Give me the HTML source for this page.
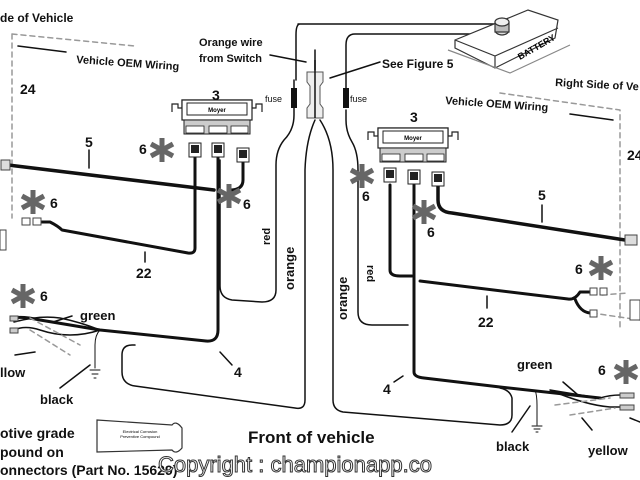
<!DOCTYPE html>
<html><head><meta charset="utf-8"><style>
html,body{margin:0;padding:0;background:#fff;}
svg{display:block;font-family:"Liberation Sans",Arial,sans-serif;font-weight:bold;}
</style></head><body>
<svg width="640" height="480" viewBox="0 0 640 480" xmlns="http://www.w3.org/2000/svg">
<defs>
<g id="ast"><g stroke="#666" stroke-width="5" stroke-linecap="butt">
<line x1="0" y1="-12" x2="0" y2="12"/><line x1="-11" y1="-6" x2="11" y2="6"/><line x1="-11" y1="6" x2="11" y2="-6"/></g></g>
<g id="moyer">
<path d="M0,12 v-8 h6 v4 h4 v-8 h70 v8 h4 v-4 h6 v8" fill="none" stroke="#222" stroke-width="1.2"/>
<rect x="10" y="0" width="70" height="20" fill="#fff" stroke="#222" stroke-width="1.2"/>
<rect x="15" y="3" width="60" height="12" fill="#fff" stroke="#222" stroke-width="1"/>
<text x="45" y="12" font-size="6" text-anchor="middle">Moyer</text>
<rect x="12" y="20" width="66" height="14" fill="#ccc" stroke="#222"/>
<rect x="14" y="26" width="18" height="7" fill="#fff" stroke="#222" stroke-width=".8"/>
<rect x="37" y="26" width="18" height="7" fill="#fff" stroke="#222" stroke-width=".8"/>
<rect x="59" y="26" width="17" height="7" fill="#fff" stroke="#222" stroke-width=".8"/>
</g>
<g id="plug"><rect x="-6" y="0" width="12" height="14" fill="#fff" stroke="#222"/><rect x="-4" y="2" width="8" height="8" fill="#222"/></g>
</defs>
<g fill="none" stroke="#111" stroke-linecap="round" stroke-linejoin="round">
<!-- dashed boxes -->
<path d="M12,34 L135,46 M12,34 V218" stroke="#999" stroke-width="1.5" stroke-dasharray="5,4"/>
<path d="M500,93 L620,110 V330" stroke="#999" stroke-width="1.5" stroke-dasharray="5,4"/>
<path d="M18,46 L66,52 M570,114 L613,120" stroke-width="1.5"/>
<!-- battery wires -->
<path d="M300,24 Q296,24 296,35 V80 M298,24 H500" stroke-width="1.5"/>
<path d="M500,34 H355 Q346,34 346,45 V88" stroke-width="1.5"/>
<!-- left fuse / red -->
<path d="M294,80 V115 Q294,130 284,140 Q276,150 276,165 V290 Q276,302 262,302 L232,300 Q220,298 220,286 V160" stroke-width="1.5"/>
<path d="M346,110 V120 Q346,132 352,142 Q358,152 358,170 V312 Q358,325 372,325 H408" stroke-width="1.5"/>
<!-- center orange -->
<path d="M315,50 V70 M315,120 Q306,140 305,170 V400 Q305,410 295,408 L135,386 Q122,384 122,372 V355 Q122,345 132,345 L135,345" stroke-width="1.5"/>
<path d="M320,120 Q333,140 333,170 V400 Q333,410 343,412 L500,425 Q512,425 512,415 V398 Q510,390 500,388" stroke-width="1.5"/>
<path d="M270,55 L306,62 M380,62 L330,78" stroke-width="1.5"/>
<!-- left wires -->
<path d="M8,165 L214,190" stroke-width="3.5"/>
<path d="M195,155 V248 Q195,254 188,253 L62,230 Q58,226 50,222 H42" stroke-width="3"/>
<path d="M218,155 V330 Q218,342 206,341 L100,330 L40,320 Q22,316 14,318" stroke-width="3"/>
<path d="M243,160 V180 Q243,190 230,190" stroke-width="3"/>
<path d="M89,150 V168 M145,252 V262 M220,352 L232,365" stroke-width="1.5"/>
<path d="M100,330 Q80,322 60,318 Q40,315 14,322 M100,330 Q70,340 40,330 Q25,325 14,330" stroke-width="1.5"/>
<path d="M30,318 L80,345 M30,330 L70,355" stroke="#999" stroke-width="1.5" stroke-dasharray="5,4"/>
<path d="M100,330 Q95,335 95,345 V368 M90,370 H100 M92,374 H98 M94,378 H96" stroke-width="1"/>
<path d="M53,322 L72,316 M15,355 L35,352 M60,388 L90,365" stroke-width="1.5"/>
<!-- right wires -->
<path d="M438,185 V200 Q438,212 452,213 L625,240" stroke-width="3.5"/>
<path d="M390,185 V270 Q390,276 400,276 H412 M420,281 L568,299 Q575,300 580,292 H590 M575,299 Q580,312 590,313" stroke-width="3"/>
<path d="M414,185 V372 Q414,377 424,378 L500,387 L600,398" stroke-width="3"/>
<path d="M542,205 V222 M487,296 V308 M394,382 L403,376" stroke-width="1.5"/>
<path d="M550,390 Q580,395 600,398 Q610,395 620,395 M550,390 Q585,405 610,407 H630" stroke-width="1.5"/>
<path d="M555,405 L610,398 M570,415 L615,408" stroke="#999" stroke-width="1.5" stroke-dasharray="5,4"/>
<path d="M535,390 Q537,395 537,405 V425 M532,426 H542 M534,429 H540 M536,432 H538" stroke-width="1"/>
<path d="M563,382 L578,395 M582,418 L592,430 M512,432 L530,406 M630,418 L640,422" stroke-width="1.5"/>
<path d="M592,313 L640,320 M602,295 L628,293" stroke="#999" stroke-width="1.5" stroke-dasharray="5,4"/>
</g>
<!-- fuses -->
<rect x="291" y="88" width="6" height="20" fill="#111"/>
<rect x="343" y="88" width="6" height="20" fill="#111"/>
<!-- center connector (see figure 5) -->
<path d="M307,72 h16 v10 l-3,4 v18 l3,4 v10 h-16 v-10 l3,-4 v-18 l-3,-4z" fill="#eee" stroke="#555"/>
<line x1="315" y1="60" x2="315" y2="118" stroke="#111" stroke-width="1.5"/>
<!-- battery -->
<g stroke="#333" fill="#fff" stroke-width="1.2">
<path d="M455,40 L528,10 L558,20 L555,38 L495,68 L455,48Z"/>
<path d="M455,40 L495,56 L558,28 M495,56 V68"/>
<path d="M448,50 L510,73 L570,45" fill="none" stroke="#888"/>
<ellipse cx="502" cy="30" rx="7" ry="5" fill="#ddd"/><rect x="495" y="22" width="14" height="10" fill="#bbb"/><ellipse cx="502" cy="22" rx="7" ry="4" fill="#eee"/>
</g>
<text x="520" y="60" font-size="9" transform="rotate(-30 520 60)">BATTERY</text>
<!-- moyer boxes and plugs -->
<use href="#moyer" x="172" y="100"/>
<use href="#plug" x="195" y="143"/><use href="#plug" x="218" y="143"/><use href="#plug" x="243" y="148"/>
<use href="#moyer" x="368" y="128"/>
<use href="#plug" x="390" y="168"/><use href="#plug" x="414" y="170"/><use href="#plug" x="438" y="172"/>
<!-- small connectors -->
<g fill="#fff" stroke="#444"><rect x="22" y="218" width="8" height="7"/><rect x="33" y="218" width="8" height="7"/>
<rect x="590" y="288" width="7" height="7"/><rect x="600" y="288" width="7" height="7"/><rect x="590" y="310" width="7" height="7"/>
<rect x="1" y="160" width="9" height="10" fill="#ddd"/><rect x="625" y="235" width="12" height="10" fill="#ddd"/>
<rect x="10" y="316" width="8" height="5" fill="#ccc"/><rect x="10" y="328" width="8" height="5" fill="#ccc"/>
<rect x="620" y="393" width="14" height="5" fill="#ccc"/><rect x="620" y="405" width="14" height="5" fill="#ccc"/>
<rect x="0" y="230" width="6" height="20"/><rect x="630" y="300" width="10" height="20"/></g>
<!-- tube -->
<path d="M97,420 L172,425 Q176,420 182,428 V448 Q176,455 172,450 L97,452Z" fill="#fff" stroke="#333" stroke-width="1.2"/>
<text x="140" y="433" font-size="4" font-weight="normal" text-anchor="middle">Electrical Corrosion</text>
<text x="140" y="438" font-size="4" font-weight="normal" text-anchor="middle">Preventive Compound</text>
<!-- asterisks -->
<use href="#ast" x="162" y="150"/><use href="#ast" x="229" y="196"/><use href="#ast" x="33" y="202"/><use href="#ast" x="23" y="296"/>
<use href="#ast" x="362" y="176"/><use href="#ast" x="424" y="212"/><use href="#ast" x="601" y="268"/><use href="#ast" x="626" y="372"/>
<!-- text -->
<g fill="#111" font-size="12">
<text x="0" y="22">de of Vehicle</text>
<text x="76" y="63" font-size="11" transform="rotate(4 76 63)">Vehicle OEM Wiring</text>
<text x="20" y="94" font-size="14">24</text>
<text x="212" y="100" font-size="14">3</text>
<text x="85" y="147" font-size="14">5</text>
<text x="139" y="154" font-size="14">6</text>
<text x="243" y="209" font-size="14">6</text>
<text x="50" y="208" font-size="14">6</text>
<text x="40" y="301" font-size="14">6</text>
<text x="136" y="278" font-size="14">22</text>
<text x="234" y="377" font-size="14">4</text>
<text x="80" y="320" font-size="13">green</text>
<text x="0" y="377" font-size="13">llow</text>
<text x="40" y="404" font-size="13">black</text>
<text x="199" y="46" font-size="11">Orange wire</text>
<text x="199" y="62" font-size="11">from Switch</text>
<text x="265" y="102" font-size="9" font-weight="normal">fuse</text>
<text x="350" y="102" font-size="9" font-weight="normal">fuse</text>
<text x="382" y="68" font-size="12">See Figure 5</text>
<text x="555" y="86" font-size="11" transform="rotate(3 555 86)">Right Side of Ve</text>
<text x="445" y="104" font-size="11" transform="rotate(4 445 104)">Vehicle OEM Wiring</text>
<text x="627" y="160" font-size="14">24</text>
<text x="410" y="122" font-size="14">3</text>
<text x="538" y="200" font-size="14">5</text>
<text x="362" y="201" font-size="14">6</text>
<text x="427" y="237" font-size="14">6</text>
<text x="575" y="274" font-size="14">6</text>
<text x="598" y="375" font-size="14">6</text>
<text x="478" y="327" font-size="14">22</text>
<text x="383" y="394" font-size="14">4</text>
<text x="517" y="369" font-size="13">green</text>
<text x="496" y="451" font-size="13">black</text>
<text x="588" y="455" font-size="13">yellow</text>
<text x="270" y="245" font-size="11" transform="rotate(-90 270 245)">red</text>
<text x="294" y="290" font-size="13" transform="rotate(-90 294 290)">orange</text>
<text x="367" y="265" font-size="11" transform="rotate(90 367 265)">red</text>
<text x="347" y="320" font-size="13" transform="rotate(-90 347 320)">orange</text>
<text x="248" y="443" font-size="17">Front of vehicle</text>
<text x="0" y="438" font-size="14">otive grade</text>
<text x="0" y="457" font-size="14">pound on</text>
<text x="0" y="475" font-size="14">onnectors (Part No. 15629)</text>
</g>
<text x="158" y="472" font-size="22" font-weight="normal" fill="#fff" stroke="#333" stroke-width="1">Copyright : championapp.co</text>
</svg>
</body></html>
